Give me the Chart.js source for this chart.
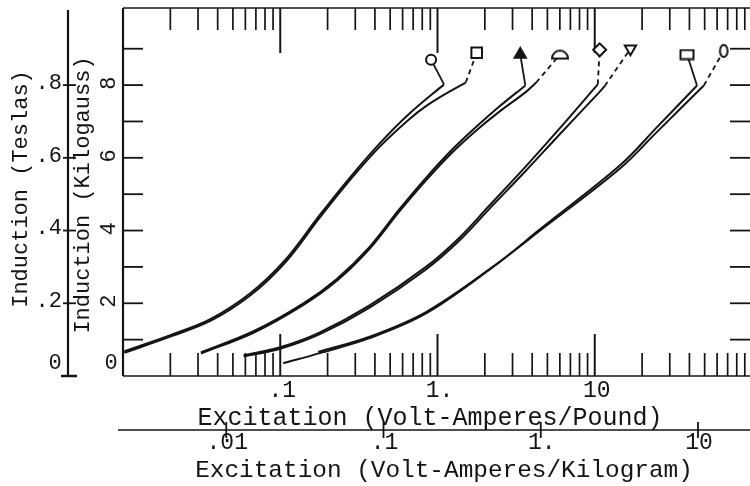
<!DOCTYPE html>
<html><head><meta charset="utf-8">
<script src="https://cdn.jsdelivr.net/npm/chart.js@4.4.0/dist/chart.umd.min.js"></script>
<style>html,body{margin:0;padding:0;background:#fff;overflow:hidden;width:750px;height:486px}canvas{display:block}</style>
</head><body>
<canvas id="c" width="760" height="486" style="width:760px;height:486px"></canvas>
<script>
// ---------- data (x: Volt-Amperes/Pound, y: Kilogauss) ----------
const p1a_x = [0.0102,0.0202,0.0362,0.0647,0.1075,0.1786,0.2765,0.428,0.661,1.1];
const p1a_y = [0.68,1.13,1.57,2.28,3.19,4.43,5.45,6.39,7.21,8.02];
const p1b_x = [0.0102,0.0202,0.0362,0.0647,0.1075,0.1786,0.2765,0.428,0.661,0.845,1.148,1.513];
const p1b_y = [0.64,1.09,1.52,2.22,3.12,4.36,5.38,6.30,7.06,7.42,7.78,8.07];
const p2a_x = [0.0313,0.0676,0.1396,0.229,0.37,0.571,0.845,1.235,1.75,2.44,3.62];
const p2a_y = [0.65,1.23,1.99,2.67,3.55,4.58,5.45,6.22,6.84,7.39,7.99];
const p2b_x = [0.0313,0.0676,0.1396,0.229,0.37,0.571,0.845,1.235,1.75,2.44,3.62,4.24];
const p2b_y = [0.62,1.19,1.95,2.62,3.50,4.52,5.38,6.14,6.74,7.25,7.80,8.07];
const p3a_x = [0.0585,0.1,0.1786,0.37,0.845,1.367,2.11,3.62,5.85,10.45];
const p3a_y = [0.57,0.79,1.20,1.94,3.00,3.79,4.66,5.75,6.76,8.02];
const p3b_x = [0.0585,0.1,0.1786,0.37,0.845,1.367,2.11,3.62,5.85,10.45,11.56];
const p3b_y = [0.54,0.75,1.15,1.88,2.93,3.71,4.57,5.63,6.60,7.76,7.97];
const p4a_x = [0.1045,0.1786,0.37,0.845,2.21,4.56,14.6,24.97,44.7];
const p4a_y = [0.35,0.63,1.04,1.72,2.97,4.06,5.81,6.85,7.99];
const p4b_x = [0.174,0.37,0.845,2.21,4.56,14.6,24.97,49.4];
const p4b_y = [0.66,1.08,1.76,2.98,4.02,5.72,6.72,7.99];
// curve-identifying symbols
const marker_x = [0.91,1.775,3.36,6.01,10.75,16.87,38.6,66.1];
const marker_y = [8.70,8.89,8.84,8.84,8.97,9.00,8.84,8.94];
// ---------- axes / ticks ----------
const xDecades = [0.01,0.1,1,10];
const xTickVals = [0.1,1,10];
const xTickLabels = ['.1','1.','10'];
const kgxTickVals = [0.01,0.1,1,10];
const kgxTickLabels = ['.01','.1','1.','10'];
const kGaussTicks = [1,2,3,4,5,6,7,8,9];
const kGaussLabelVals = [0,2,4,6,8];
const kGaussLabels = ['0','2','4','6','8'];
const teslaLabelVals = [0,0.2,0.4,0.6,0.8];
const teslaLabels = ['0','.2','.4','.6','.8'];
const titleXlb = 'Excitation (Volt-Amperes/Pound)';
const titleXkg = 'Excitation (Volt-Amperes/Kilogram)';
const titleYkG = 'Induction (Kilogauss)';
const titleYT = 'Induction (Teslas)';
const LB_PER_KG_FACTOR = 4.536; // as drawn on the figure's secondary scale
const leaderDashed = [false,true,false,true,true,true,false,true];

const ink = '#141414';
const FONT = '"Liberation Mono","Courier New",monospace';

function pts(xs, ys){ return xs.map((v,i)=>({x:v,y:ys[i]})); }
function lastPt(xs, ys){ return {x:xs[xs.length-1], y:ys[ys.length-1]}; }

function makeSemi(){
  const c=document.createElement('canvas'); c.width=20; c.height=14;
  const g=c.getContext('2d'); g.lineWidth=2; g.strokeStyle=ink; g.fillStyle='#fff';
  g.beginPath(); g.arc(10,11,8,Math.PI,2*Math.PI); g.closePath(); g.fill(); g.stroke();
  return c;
}
function makeEllipse(){
  const c=document.createElement('canvas'); c.width=12; c.height=16;
  const g=c.getContext('2d'); g.lineWidth=2; g.strokeStyle=ink; g.fillStyle='#fff';
  g.beginPath(); g.ellipse(6,8,3.8,6,0,0,2*Math.PI); g.fill(); g.stroke();
  return c;
}
function makeRectWide(){
  const c=document.createElement('canvas'); c.width=16; c.height=12;
  const g=c.getContext('2d'); g.lineWidth=2; g.strokeStyle=ink; g.fillStyle='#fff';
  g.beginPath(); g.rect(1.5,1.5,13,9); g.fill(); g.stroke();
  return c;
}

const curves = [[p1a_x,p1a_y],[p1b_x,p1b_y],[p2a_x,p2a_y],[p2b_x,p2b_y],[p3a_x,p3a_y],[p3b_x,p3b_y],[p4a_x,p4a_y],[p4b_x,p4b_y]];

const datasets = [];
datasets.push({
  type:'line', showLine:false, order:0,
  data: pts(marker_x, marker_y),
  pointStyle: ['circle','rect','triangle',makeSemi(),'rectRot','triangle',makeRectWide(),makeEllipse()],
  pointRotation: [0,0,0,0,0,180,0,0],
  pointRadius: [5,7.5,6.5,6,6.5,6.5,6,6],
  pointBackgroundColor: ['#fff','#fff',ink,'#fff','#fff','#fff','#fff','#fff'],
  pointBorderColor: ink, pointBorderWidth: 2
});
curves.forEach((c,i)=>{
  datasets.push({type:'line', order:2, data: pts(c[0],c[1]), borderColor: ink,
    borderWidth: 2, pointRadius:0, tension:0.35, fill:false});
  const m = {x:marker_x[i], y:marker_y[i]};
  datasets.push({type:'line', order:1, data:[lastPt(c[0],c[1]), m], borderColor: ink,
    borderWidth:1.8, pointRadius:0, borderDash: leaderDashed[i]?[5,4]:[], fill:false});
});

const axesPlugin = {
  id:'oldAxes',
  beforeDatasetsDraw(chart){
    const {ctx, chartArea:a, scales} = chart;
    const x=scales.x, y=scales.y, yT=scales.yT, x2=scales.x2;
    const ln=(x1,y1,x3,y3)=>{ctx.beginPath();ctx.moveTo(x1,y1);ctx.lineTo(x3,y3);ctx.stroke();};
    ctx.save();
    ctx.strokeStyle=ink; ctx.fillStyle=ink;
    // frame
    ctx.lineWidth=2.2; ln(a.left,a.top,a.left,a.bottom);
    ctx.lineWidth=1.6; ln(a.left,a.top,a.right,a.top); ln(a.left,a.bottom,a.right,a.bottom); ln(a.right,a.top,a.right,a.bottom);
    // log ticks top & bottom
    ctx.lineWidth=1.7;
    xDecades.forEach(d=>{ for(let m=2;m<=9;m++){ const px=x.getPixelForValue(d*m);
      ln(px,a.top,px,a.top+22); ln(px,a.bottom,px,a.bottom-23);} });
    ctx.lineWidth=2;
    xTickVals.forEach(v=>{ const px=x.getPixelForValue(v); ln(px,a.top,px,a.top+45); ln(px,a.bottom,px,a.bottom-42); });
    // kilogauss ticks left & right
    ctx.lineWidth=1.8;
    kGaussTicks.forEach(v=>{ const py=y.getPixelForValue(v); ln(a.left,py,a.left+20,py); ln(a.right,py,a.right-22,py); });
    // labels main x
    ctx.font='23px '+FONT; ctx.textAlign='center'; ctx.textBaseline='alphabetic';
    xTickVals.forEach((v,i)=>{ ctx.fillText(xTickLabels[i], x.getPixelForValue(v)+2, 397); });
    ctx.font='25px '+FONT; ctx.fillText(titleXlb, 430, 425);
    // secondary kg axis
    ctx.lineWidth=1.6; ln(a.left-5,430,a.right,430);
    ctx.lineWidth=1.8;
    kgxTickVals.forEach((v,i)=>{ const px=x2.getPixelForValue(v); ln(px,422,px,438); });
    ctx.font='23px '+FONT;
    kgxTickVals.forEach((v,i)=>{ ctx.fillText(kgxTickLabels[i], x2.getPixelForValue(v)+1, 449); });
    ctx.font='24.4px '+FONT; ctx.fillText(titleXkg, 444, 477);
    // kilogauss labels (rotated)
    ctx.font='22px '+FONT; ctx.textBaseline='middle';
    kGaussLabelVals.forEach((v,i)=>{
      const py=y.getPixelForValue(v);
      if(v===0){ ctx.textAlign='center'; ctx.fillText(kGaussLabels[i],111,363); }
      else { ctx.save(); ctx.translate(109,py-2); ctx.rotate(-Math.PI/2); ctx.textAlign='center'; ctx.fillText(kGaussLabels[i],0,0); ctx.restore(); }
    });
    // tesla axis
    const tx=68;
    ctx.lineWidth=2.2; ln(tx,yT.getPixelForValue(yT.max)+2,tx,a.bottom);
    ctx.lineWidth=2.5; ln(tx-7,a.bottom,tx+9,a.bottom);
    ctx.lineWidth=1.8;
    teslaLabelVals.forEach((v,i)=>{
      const py=yT.getPixelForValue(v);
      if(v>0) ln(tx-5,py,tx+8,py);
      ctx.textAlign='right';
      if(v===0){ ctx.textAlign='center'; ctx.fillText(teslaLabels[i],55,363); }
      else ctx.fillText(teslaLabels[i],62,py-2);
    });
    // y titles
    ctx.font='22px '+FONT; ctx.textAlign='center';
    ctx.save(); ctx.translate(21,189); ctx.rotate(-Math.PI/2); ctx.fillText(titleYT,0,0); ctx.restore();
    ctx.save(); ctx.translate(83,195); ctx.rotate(-Math.PI/2); ctx.fillText(titleYkG,0,0); ctx.restore();
    ctx.restore();
  }
};

const Y_MAX = 10.12, X_MIN = 0.01, X_MAX = 100;
new Chart(document.getElementById('c'), {
  type:'line',
  data:{datasets},
  options:{
    responsive:false, animation:false, devicePixelRatio:1,
    layout:{padding:{left:123, top:5, right:3, bottom:110}},
    plugins:{legend:{display:false}, tooltip:{enabled:false}},
    scales:{
      x:{type:'logarithmic', min:X_MIN, max:X_MAX, display:false},
      x2:{type:'logarithmic', min:X_MIN/LB_PER_KG_FACTOR, max:X_MAX/LB_PER_KG_FACTOR, display:false},
      y:{type:'linear', min:0, max:Y_MAX, display:false},
      yT:{type:'linear', min:0, max:Y_MAX/10, display:false}
    }
  },
  plugins:[axesPlugin]
});
</script></body></html>
